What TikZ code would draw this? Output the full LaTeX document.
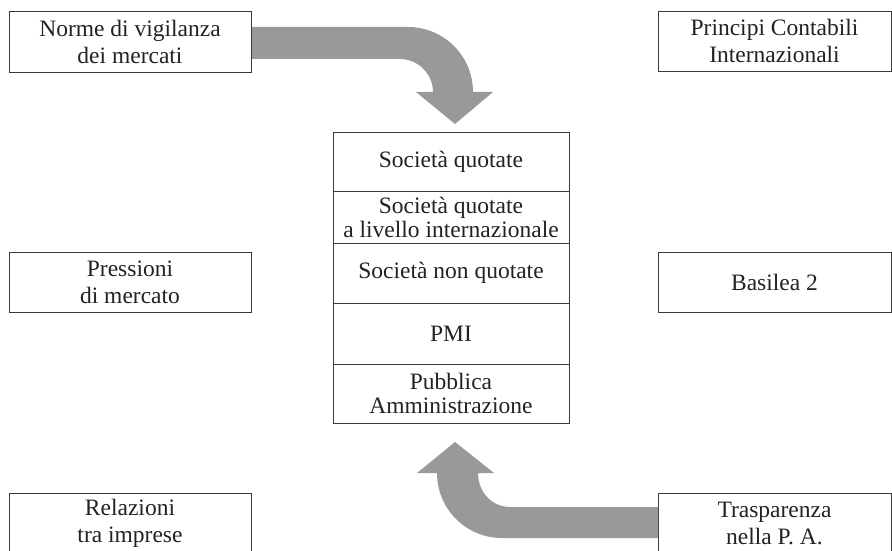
\documentclass[tikz,border=0pt]{standalone}
\usepackage{fontspec}
\setmainfont{Liberation Serif}
\definecolor{edge}{HTML}{3A3A3A}
\definecolor{ink}{HTML}{222222}
\definecolor{flow}{HTML}{999999}
\tikzset{
  box/.style={draw=edge, line width=0.9pt, text=ink, align=center, inner sep=0pt,
    minimum height=60pt, font=\fontsize{23.5}{27}\selectfont},
  sidebox/.style={box, minimum width=242pt},
  rightbox/.style={box, minimum width=233pt},
  cell/.style={box, minimum width=236pt, font=\fontsize{23.5}{24}\selectfont},
  bigarrow/.style={fill=flow, draw=none}
}
\begin{document}
\begin{tikzpicture}[x=1pt, y=-1pt]
  \useasboundingbox (0,0) rectangle (892,551);
  \clip (0,0) rectangle (892,551);

  % influences on the left
  \node[sidebox, minimum height=61pt] (norme) at (130,41.5) {Norme di vigilanza\\dei mercati};
  \node[sidebox] (press) at (130,282) {Pressioni\\di mercato};
  \node[sidebox] (rel) at (130,523) {Relazioni\\tra imprese};

  % influences on the right
  \node[rightbox] (ias) at (774.5,41) {Principi Contabili\\Internazionali};
  \node[rightbox] (bas) at (774.5,282) {Basilea 2};
  \node[rightbox] (trasp) at (774.5,523) {Trasparenza\\nella P. A.};

  % central stack of entities
  \node[cell, minimum height=59pt] (quot) at (451,161.5) {Società quotate};
  \node[cell, minimum height=52pt] (intl) at (451,217) {Società quotate\\a livello internazionale};
  \node[cell, minimum height=60pt] (nonq) at (451,273) {Società non quotate};
  \node[cell, minimum height=61pt] (pmi) at (451,333.5) {PMI};
  \node[cell, minimum height=59pt] (pa) at (451,393.5) {Pubblica\\Amministrazione};

  % curved block arrow from the supervision rules down to the stack
  \fill[bigarrow] (252,27) -- (408,27)
    .. controls (444,27) and (473,56) .. (473,92)
    -- (493,92) -- (455,124) -- (416,92) -- (433,92)
    .. controls (433,74) and (418,59) .. (400,59)
    -- (252,59) -- cycle;

  % curved block arrow from transparency in the P.A. up to the stack
  \fill[bigarrow] (658,507) -- (510,507)
    .. controls (492,507) and (478,492) .. (478,473)
    -- (494,473) -- (455,442) -- (417,473) -- (437,473)
    .. controls (437,509) and (466,538) .. (502,538)
    -- (658,538) -- cycle;
\end{tikzpicture}
\end{document}
